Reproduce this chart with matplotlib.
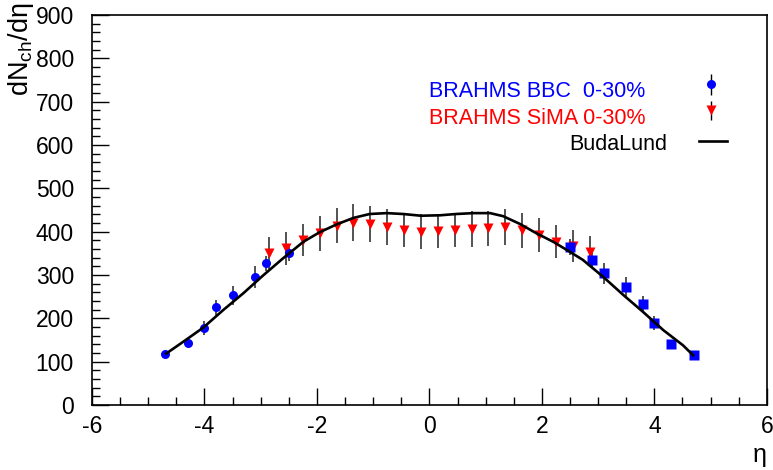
import numpy as np
import matplotlib.pyplot as plt
from matplotlib.ticker import MultipleLocator

plt.rcParams['font.family'] = ['Liberation Sans', 'DejaVu Sans']
plt.rcParams['axes.unicode_minus'] = False
plt.rcParams['mathtext.fontset'] = 'custom'
plt.rcParams['mathtext.rm'] = 'Liberation Sans'

# BRAHMS BBC 0-30% (backward side measured, forward side reflected)
bbc_eta = [-4.7, -4.3, -4.0, -3.8, -3.5, -3.1, -2.9, -2.5]
bbc_val = [118, 143, 178, 226, 253, 295, 327, 350]
bbc_err = [8, 10, 16, 17, 22, 25, 18, 18]

bbc_refl_eta = [2.5, 2.9, 3.1, 3.5, 3.8, 4.0, 4.3, 4.7]
bbc_refl_val = [365, 334, 304, 273, 233, 189, 141, 115]
bbc_refl_err = [18, 18, 24, 22, 18, 16, 10, 8]

# BRAHMS SiMA 0-30%
sima_eta = [-2.85, -2.55, -2.25, -1.95, -1.65, -1.35, -1.05, -0.75, -0.45, -0.15,
            0.15, 0.45, 0.75, 1.05, 1.35, 1.65, 1.95, 2.25, 2.55, 2.85]
sima_val = [350, 362, 381, 396, 414, 421, 418, 411, 404, 400,
            402, 404, 406, 408, 411, 403, 393, 377, 367, 354]
sima_err = [37, 38, 38, 40, 41, 42, 42, 41, 40, 40,
            40, 40, 41, 41, 41, 40, 39, 38, 37, 36]

# BudaLund fit
bl_eta = [-4.68, -4.38, -4.02, -3.67, -3.31, -2.95, -2.60, -2.42, -2.24, -1.95,
          -1.65, -1.35, -1.06, -0.76, -0.47, -0.15, 0.19, 0.48, 0.78, 1.08,
          1.31, 1.61, 1.91, 2.20, 2.47, 2.73, 3.09, 3.45, 3.80, 4.16, 4.51, 4.69]
bl_val = [119, 146, 179, 219, 258, 300, 339, 358, 377, 399,
          417, 432, 441, 443, 441, 437, 438, 441, 443, 443,
          436, 418, 396, 377, 356, 335, 296, 254, 215, 173, 138, 115]

fig = plt.figure(figsize=(7.73, 4.70), dpi=100)
ax = fig.add_axes([0.119, 0.138, 0.873, 0.830])

ebar = dict(fmt='none', ecolor='#444444', elinewidth=1.3, capsize=0, zorder=2)
ax.errorbar(sima_eta, sima_val, yerr=sima_err, **ebar)
ax.errorbar(bbc_eta, bbc_val, yerr=bbc_err, **ebar)
ax.errorbar(bbc_refl_eta, bbc_refl_val, yerr=bbc_refl_err, **ebar)

ax.plot(sima_eta, sima_val, 'v', color='red', markersize=6.5, mec='none', zorder=3)
ax.plot(bbc_eta, bbc_val, 'o', color='blue', markersize=6.5, mec='none', zorder=3)
ax.plot(bbc_refl_eta, bbc_refl_val, 's', color='blue', markersize=6.5, mec='none', zorder=3)
ax.plot(bl_eta, bl_val, '-', color='black', linewidth=1.9, zorder=4,
        solid_joinstyle='round')

ax.set_xlim(-6, 6)
ax.set_ylim(0, 900)
ax.xaxis.set_major_locator(MultipleLocator(2))
ax.xaxis.set_minor_locator(MultipleLocator(0.5))
ax.yaxis.set_major_locator(MultipleLocator(100))
ax.yaxis.set_minor_locator(MultipleLocator(20))
ax.tick_params(which='both', direction='in', top=False, right=False, width=1)
ax.tick_params(which='major', length=12)
ax.tick_params(which='minor', length=6)
ax.tick_params(axis='x', pad=7)
ax.tick_params(axis='y', pad=13)
for lab in ax.get_xticklabels() + ax.get_yticklabels():
    lab.set_family(['Liberation Sans Narrow', 'Liberation Sans'])
    lab.set_fontsize(16.5)
for s in ax.spines.values():
    s.set_linewidth(1.2)

fig.text(0.027, 0.995, 'dN$_{\\rm ch}$/d\u03b7', rotation=90, fontsize=19.5,
         ha='center', va='top')
fig.text(0.983, 0.032, '\u03b7', fontsize=18, ha='center', va='center')

# legend
ax.text(0.5, 0.805, 'BRAHMS BBC  0-30%', transform=ax.transAxes,
        color='blue', fontsize=15.5, va='center')
ax.text(0.5, 0.736, 'BRAHMS SiMA 0-30%', transform=ax.transAxes,
        color='red', fontsize=15.5, va='center')
ax.text(0.853, 0.667, 'BudaLund', transform=ax.transAxes,
        color='black', fontsize=15.5, va='center', ha='right')
ax.errorbar([5.0], [740], yerr=[25], fmt='o', color='blue', ecolor='black',
            elinewidth=1, markersize=6.5, mec='none')
ax.errorbar([5.0], [680], yerr=[22], fmt='v', color='red', ecolor='black',
            elinewidth=1, markersize=6.5, mec='none')
ax.plot([4.8, 5.3], [610, 610], color='black', linewidth=1.9)

fig.savefig('out.png', dpi=100)
